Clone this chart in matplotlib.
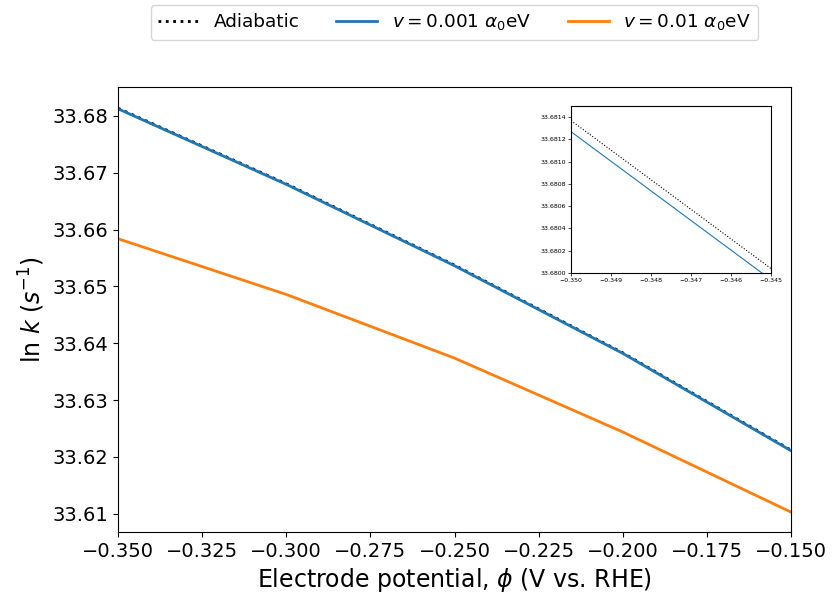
import matplotlib
matplotlib.use("Agg")
import matplotlib.pyplot as plt

phi = [-0.35, -0.30, -0.25, -0.20, -0.15]
adiabatic = [33.68137, 33.66807, 33.65375, 33.63833, 33.62120]
v_001 = [33.68127, 33.66797, 33.65365, 33.63823, 33.62110]
v_01 = [33.6584, 33.6486, 33.6374, 33.6244, 33.6103]

fig = plt.figure(figsize=(8.33, 5.96), dpi=100)
ax = fig.add_axes([0.1417, 0.1074, 0.8079, 0.7466])
ax.plot(phi, adiabatic, ':', color='black', lw=2, label='Adiabatic')
ax.plot(phi, v_001, '-', color='#1f77b4', lw=2, label=r'$v = 0.001\ \alpha_0$eV')
ax.plot(phi, v_01, '-', color='#ff7f0e', lw=2, label=r'$v = 0.01\ \alpha_0$eV')
ax.set_xlim(-0.35, -0.15)
ax.set_ylim(33.6068, 33.6851)
ax.set_xticks([-0.35, -0.325, -0.30, -0.275, -0.25, -0.225, -0.20, -0.175, -0.15])
ax.set_xticklabels(['−0.350', '−0.325', '−0.300', '−0.275', '−0.250', '−0.225', '−0.200', '−0.175', '−0.150'])
ax.set_yticks([33.61, 33.62, 33.63, 33.64, 33.65, 33.66, 33.67, 33.68])
ax.tick_params(labelsize=14)
ax.set_xlabel(r'Electrode potential, $\phi$ (V vs. RHE)', fontsize=17)
ax.set_ylabel(r'ln $k$ ($s^{-1}$)', fontsize=17)
ax.legend(loc='center', bbox_to_anchor=(0.5, 1.145), ncol=3, fontsize=13.3, handlelength=2.2, columnspacing=2.0)

ins = fig.add_axes([0.6855, 0.542, 0.240, 0.280])
ins.plot(phi, adiabatic, ':', color='black', lw=0.8)
ins.plot(phi, v_001, '-', color='#1f77b4', lw=0.8)
ins.set_xlim(-0.350, -0.345)
ins.set_ylim(33.6800, 33.6815)
ins.set_xticks([-0.350, -0.349, -0.348, -0.347, -0.346, -0.345])
ins.set_xticklabels(['−0.350', '−0.349', '−0.348', '−0.347', '−0.346', '−0.345'])
ins.set_yticks([33.6800, 33.6802, 33.6804, 33.6806, 33.6808, 33.6810, 33.6812, 33.6814])
ins.set_yticklabels(['33.6800', '33.6802', '33.6804', '33.6806', '33.6808', '33.6810', '33.6812', '33.6814'])
ins.tick_params(labelsize=4.5, length=2, width=0.5, pad=1.5)
for s in ins.spines.values():
    s.set_linewidth(0.8)

fig.savefig('out.png', dpi=100)
